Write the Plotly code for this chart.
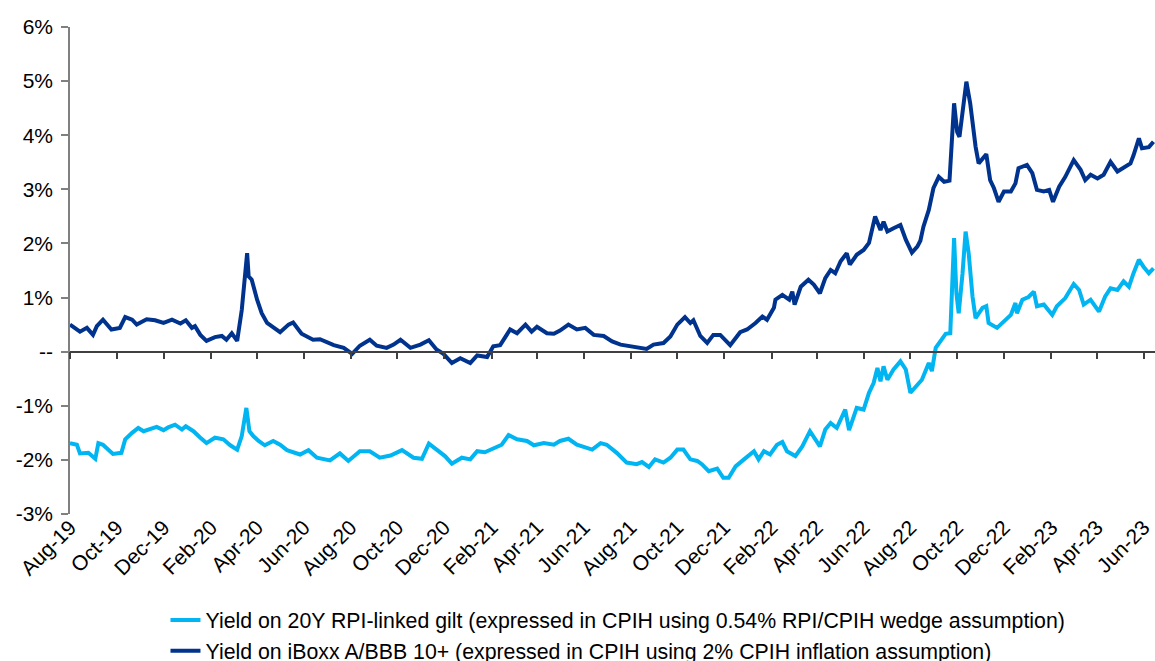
import plotly.graph_objects as go

# Yield on 20Y RPI-linked gilt (CPIH basis), %
gilt_dates = [
    "2019-08-01", "2019-08-10", "2019-08-14", "2019-08-25", "2019-09-03", "2019-09-07", "2019-09-13",
    "2019-09-18", "2019-09-26", "2019-10-07", "2019-10-12", "2019-10-21", "2019-10-29", "2019-11-05",
    "2019-11-13", "2019-11-22", "2019-12-01", "2019-12-07", "2019-12-16", "2019-12-25", "2019-12-30",
    "2020-01-09", "2020-01-18", "2020-01-26", "2020-02-06", "2020-02-17", "2020-02-26", "2020-03-06",
    "2020-03-12", "2020-03-18", "2020-03-22", "2020-03-27", "2020-04-03", "2020-04-11", "2020-04-22",
    "2020-05-01", "2020-05-10", "2020-05-27", "2020-06-07", "2020-06-18", "2020-07-05", "2020-07-18",
    "2020-07-29", "2020-08-13", "2020-08-26", "2020-09-08", "2020-09-22", "2020-10-07", "2020-10-22",
    "2020-11-02", "2020-11-11", "2020-11-21", "2020-12-02", "2020-12-11", "2020-12-24", "2021-01-04",
    "2021-01-13", "2021-01-23", "2021-02-03", "2021-02-14", "2021-02-23", "2021-03-06", "2021-03-19",
    "2021-03-28", "2021-04-10", "2021-04-23", "2021-05-01", "2021-05-12", "2021-05-23", "2021-06-05",
    "2021-06-12", "2021-06-23", "2021-07-01", "2021-07-14", "2021-07-27", "2021-08-09", "2021-08-16",
    "2021-08-25", "2021-09-02", "2021-09-13", "2021-09-22", "2021-10-01", "2021-10-09", "2021-10-18",
    "2021-10-27", "2021-11-02", "2021-11-11", "2021-11-22", "2021-11-30", "2021-12-07", "2021-12-16",
    "2021-12-27", "2022-01-09", "2022-01-15", "2022-01-22", "2022-01-30", "2022-02-08", "2022-02-15",
    "2022-02-21", "2022-03-04", "2022-03-13", "2022-03-23", "2022-03-28", "2022-04-05", "2022-04-12",
    "2022-04-19", "2022-04-27", "2022-05-08", "2022-05-13", "2022-05-23", "2022-06-01", "2022-06-08",
    "2022-06-14", "2022-06-19", "2022-06-23", "2022-06-27", "2022-07-02", "2022-07-10", "2022-07-19",
    "2022-07-26", "2022-08-01", "2022-08-10", "2022-08-16", "2022-08-25", "2022-08-29", "2022-09-03",
    "2022-09-09", "2022-09-16", "2022-09-22", "2022-09-27", "2022-09-30", "2022-10-03", "2022-10-08",
    "2022-10-12", "2022-10-16", "2022-10-21", "2022-10-25", "2022-11-03", "2022-11-08", "2022-11-11",
    "2022-11-22", "2022-12-01", "2022-12-10", "2022-12-16", "2022-12-18", "2022-12-25", "2023-01-02",
    "2023-01-09", "2023-01-13", "2023-01-22", "2023-02-02", "2023-02-08", "2023-02-19", "2023-03-02",
    "2023-03-09", "2023-03-15", "2023-03-24", "2023-04-04", "2023-04-12", "2023-04-19", "2023-04-28",
    "2023-05-06", "2023-05-13", "2023-05-19", "2023-05-26", "2023-06-01", "2023-06-08", "2023-06-14",
]
gilt_yield = [
    -1.69, -1.72, -1.88, -1.87, -1.98, -1.69, -1.72,
    -1.78, -1.89, -1.87, -1.62, -1.50, -1.41, -1.47,
    -1.43, -1.39, -1.45, -1.40, -1.35, -1.44, -1.38,
    -1.47, -1.59, -1.69, -1.59, -1.62, -1.73, -1.81,
    -1.56, -1.04, -1.47, -1.56, -1.65, -1.73, -1.65,
    -1.72, -1.82, -1.90, -1.82, -1.96, -2.01, -1.88,
    -2.02, -1.84, -1.84, -1.96, -1.92, -1.82, -1.96,
    -1.98, -1.70, -1.81, -1.93, -2.07, -1.96, -1.99,
    -1.84, -1.86, -1.78, -1.72, -1.54, -1.62, -1.65,
    -1.73, -1.69, -1.72, -1.65, -1.61, -1.72, -1.78,
    -1.81, -1.69, -1.72, -1.87, -2.05, -2.08, -2.04,
    -2.13, -1.99, -2.05, -1.96, -1.81, -1.81, -1.99,
    -2.02, -2.08, -2.21, -2.16, -2.33, -2.33, -2.12,
    -1.99, -1.84, -1.99, -1.84, -1.90, -1.72, -1.67,
    -1.84, -1.93, -1.75, -1.47, -1.59, -1.75, -1.44,
    -1.32, -1.41, -1.07, -1.45, -1.04, -1.07, -0.76,
    -0.58, -0.30, -0.55, -0.27, -0.52, -0.33, -0.18,
    -0.33, -0.76, -0.62, -0.52, -0.21, -0.36, 0.07,
    0.19, 0.33, 0.34, 2.10, 1.08, 0.71, 1.45,
    2.22, 1.82, 1.02, 0.62, 0.81, 0.84, 0.53,
    0.44, 0.56, 0.68, 0.90, 0.71, 0.96, 1.01,
    1.11, 0.84, 0.87, 0.68, 0.84, 0.99, 1.25,
    1.14, 0.87, 0.96, 0.74, 1.02, 1.17, 1.14,
    1.30, 1.20, 1.45, 1.70, 1.57, 1.45, 1.54,
]

# Yield on iBoxx A/BBB 10+ (CPIH basis), %
iboxx_dates = [
    "2019-08-01", "2019-08-14", "2019-08-23", "2019-08-31", "2019-09-05", "2019-09-13", "2019-09-24",
    "2019-10-05", "2019-10-12", "2019-10-21", "2019-10-27", "2019-11-09", "2019-11-20", "2019-12-01",
    "2019-12-12", "2019-12-23", "2019-12-30", "2020-01-07", "2020-01-11", "2020-01-18", "2020-01-26",
    "2020-02-06", "2020-02-15", "2020-02-21", "2020-02-28", "2020-03-06", "2020-03-12", "2020-03-19",
    "2020-03-21", "2020-03-25", "2020-04-01", "2020-04-07", "2020-04-14", "2020-04-22", "2020-05-01",
    "2020-05-12", "2020-05-18", "2020-05-29", "2020-06-13", "2020-06-22", "2020-07-10", "2020-07-23",
    "2020-08-03", "2020-08-13", "2020-08-26", "2020-09-04", "2020-09-17", "2020-09-26", "2020-10-05",
    "2020-10-18", "2020-10-31", "2020-11-11", "2020-11-21", "2020-11-30", "2020-12-11", "2020-12-22",
    "2021-01-04", "2021-01-13", "2021-01-26", "2021-02-03", "2021-02-12", "2021-02-25", "2021-03-06",
    "2021-03-17", "2021-03-25", "2021-04-01", "2021-04-14", "2021-04-23", "2021-05-01", "2021-05-12",
    "2021-05-23", "2021-06-03", "2021-06-14", "2021-06-27", "2021-07-08", "2021-07-19", "2021-08-01",
    "2021-08-14", "2021-08-22", "2021-08-31", "2021-09-13", "2021-09-22", "2021-10-01", "2021-10-11",
    "2021-10-18", "2021-10-22", "2021-10-31", "2021-11-09", "2021-11-17", "2021-11-26", "2021-12-09",
    "2021-12-22", "2021-12-31", "2022-01-11", "2022-01-20", "2022-01-26", "2022-02-04", "2022-02-06",
    "2022-02-15", "2022-02-24", "2022-02-28", "2022-03-03", "2022-03-11", "2022-03-21", "2022-03-28",
    "2022-04-05", "2022-04-12", "2022-04-19", "2022-04-25", "2022-05-02", "2022-05-10", "2022-05-14",
    "2022-05-23", "2022-06-01", "2022-06-08", "2022-06-16", "2022-06-23", "2022-06-27", "2022-07-02",
    "2022-07-10", "2022-07-19", "2022-07-26", "2022-08-03", "2022-08-10", "2022-08-14", "2022-08-18",
    "2022-08-21", "2022-08-25", "2022-08-31", "2022-09-07", "2022-09-14", "2022-09-21", "2022-09-27",
    "2022-10-01", "2022-10-04", "2022-10-10", "2022-10-13", "2022-10-18", "2022-10-22", "2022-10-25",
    "2022-10-29", "2022-11-08", "2022-11-13", "2022-11-18", "2022-11-24", "2022-12-01", "2022-12-10",
    "2022-12-16", "2022-12-20", "2022-12-31", "2023-01-07", "2023-01-13", "2023-01-22", "2023-01-29",
    "2023-02-03", "2023-02-11", "2023-02-19", "2023-03-02", "2023-03-11", "2023-03-17", "2023-03-24",
    "2023-04-02", "2023-04-10", "2023-04-19", "2023-04-28", "2023-05-09", "2023-05-15", "2023-05-19",
    "2023-05-26", "2023-05-30", "2023-06-08", "2023-06-14",
]
iboxx_yield = [
    0.50, 0.37, 0.44, 0.31, 0.47, 0.59, 0.41,
    0.44, 0.64, 0.59, 0.50, 0.60, 0.58, 0.53,
    0.59, 0.52, 0.58, 0.44, 0.47, 0.31, 0.20,
    0.27, 0.29, 0.22, 0.34, 0.20, 0.77, 1.82,
    1.39, 1.33, 0.96, 0.71, 0.53, 0.46, 0.36,
    0.50, 0.54, 0.33, 0.22, 0.23, 0.12, 0.07,
    -0.04, 0.11, 0.22, 0.11, 0.07, 0.13, 0.22,
    0.07, 0.13, 0.21, 0.04, -0.04, -0.21, -0.12,
    -0.21, -0.07, -0.10, 0.10, 0.12, 0.41, 0.34,
    0.50, 0.37, 0.46, 0.34, 0.33, 0.39, 0.50,
    0.41, 0.44, 0.31, 0.29, 0.19, 0.13, 0.10,
    0.07, 0.05, 0.13, 0.16, 0.28, 0.50, 0.64,
    0.53, 0.58, 0.29, 0.16, 0.31, 0.31, 0.12,
    0.36, 0.41, 0.53, 0.65, 0.59, 0.81, 0.96,
    1.05, 0.96, 1.11, 0.87, 1.20, 1.33, 1.24,
    1.08, 1.36, 1.51, 1.45, 1.67, 1.82, 1.61,
    1.79, 1.88, 2.01, 2.50, 2.25, 2.40, 2.22,
    2.28, 2.34, 2.07, 1.83, 1.94, 2.05, 2.31,
    2.44, 2.62, 3.02, 3.23, 3.14, 3.16, 4.59,
    4.06, 3.97, 4.65, 4.99, 4.59, 4.10, 3.79,
    3.48, 3.65, 3.17, 3.02, 2.77, 2.96, 2.96,
    3.11, 3.39, 3.45, 3.30, 2.99, 2.96, 2.99,
    2.77, 3.05, 3.23, 3.54, 3.36, 3.17, 3.27,
    3.20, 3.27, 3.51, 3.33, 3.42, 3.48, 3.63,
    3.94, 3.76, 3.78, 3.88,
]

y_ticks = [6, 5, 4, 3, 2, 1, 0, -1, -2, -3]
y_labels = ["6%", "5%", "4%", "3%", "2%", "1%", "--", "-1%", "-2%", "-3%"]

gilt_name = "Yield on 20Y RPI-linked gilt (expressed in CPIH using 0.54% RPI/CPIH wedge assumption)"
iboxx_name = "Yield on iBoxx A/BBB 10+ (expressed in CPIH using 2% CPIH inflation assumption)"

LIGHT = "#00B5F1"
DARK = "#00338D"
FONT = "Arial, Liberation Sans, sans-serif"

fig = go.Figure()
fig.add_trace(go.Scatter(x=gilt_dates, y=gilt_yield, mode="lines", name=gilt_name,
                         line=dict(color=LIGHT, width=4), xaxis="x2",
                         legendgroup="a"))
fig.add_trace(go.Scatter(x=iboxx_dates, y=iboxx_yield, mode="lines", name=iboxx_name,
                         line=dict(color=DARK, width=4), legendgroup="b"))

x_range = ["2019-08-01", "2023-06-16"]

fig.update_layout(
    width=1155, height=661,
    margin=dict(l=70, r=0, t=27, b=147, autoexpand=False),
    paper_bgcolor="white", plot_bgcolor="white",
    font=dict(family=FONT, size=21, color="black"),
    showlegend=True,
    legend=dict(x=0.088, y=-0.176, xanchor="left", yanchor="top",
                traceorder="grouped", tracegroupgap=0,
                font=dict(family=FONT, size=21.3, color="black"),
                bgcolor="rgba(0,0,0,0)"),
    xaxis=dict(type="date", range=x_range, tick0="2019-08-01", dtick="M2",
               tickformat="%b-%y", tickangle=-45, showgrid=False, zeroline=False,
               showline=False, ticks="", automargin=False, ticklabelstandoff=-4,
               tickfont=dict(family=FONT, size=21, color="black")),
    xaxis2=dict(type="date", matches="x", overlaying="x", anchor="free", position=1/3,
                tick0="2019-08-01", dtick="M2", showticklabels=False,
                showgrid=False, zeroline=False, showline=True,
                linecolor="#404040", linewidth=1.5,
                ticks="outside", ticklen=7, tickwidth=1.5, tickcolor="#404040"),
    yaxis=dict(range=[-3, 6], tickvals=y_ticks, ticktext=y_labels,
               showgrid=False, zeroline=False, showline=True,
               linecolor="#808080", linewidth=1.5,
               ticks="outside", ticklen=7, tickwidth=1.5, tickcolor="#808080",
               ticklabelstandoff=4, automargin=False,
               tickfont=dict(family=FONT, size=21, color="black")),
)

# the page's default 8px body margin would shift the figure off the viewport
fig.write_html("out.html", config={"displayModeBar": False},
               post_script="document.body.style.margin='0';")
